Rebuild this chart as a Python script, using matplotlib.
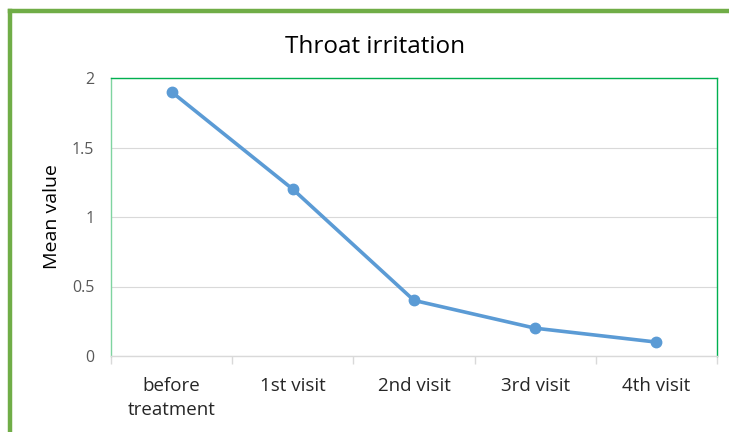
import matplotlib.pyplot as plt
from matplotlib.lines import Line2D
import numpy as np

plt.rcParams['font.family'] = ['Open Sans', 'DejaVu Sans']

categories = ['before\ntreatment', '1st visit', '2nd visit', '3rd visit', '4th visit']
mean_values = [1.9, 1.2, 0.4, 0.2, 0.1]
y_ticks = [0, 0.5, 1, 1.5, 2]
y_tick_labels = ['0', '0.5', '1', '1.5', '2']

fig = plt.figure(figsize=(7.29, 4.32), dpi=100)
ax = fig.add_axes([111 / 729, 1 - 356 / 432, 606 / 729, 278 / 432])

x = np.arange(len(categories))
ax.plot(x, mean_values, color='#5B9BD5', linewidth=2.6, marker='o', markersize=7.5)

ax.set_xlim(-0.5, len(categories) - 0.5)
ax.set_ylim(0, 2)
ax.set_yticks(y_ticks)
ax.set_yticklabels(y_tick_labels)
ax.set_xticks(x)
ax.set_xticklabels(categories, linespacing=1.45)
ax.set_xticks(np.arange(-0.5, len(categories)), minor=True)
ax.tick_params(axis='x', which='major', length=0, pad=15, labelsize=13.5, labelcolor='#262626')
ax.tick_params(axis='x', which='minor', length=6, color='#D9D9D9', width=1)
ax.tick_params(axis='y', length=0, pad=12, labelsize=11.5, labelcolor='#595959')

ax.grid(axis='y', color='#D9D9D9', linewidth=0.8)
ax.set_axisbelow(True)

ax.spines['top'].set_color('#00B050')
ax.spines['right'].set_color('#00B050')
ax.spines['left'].set_color('#7FD4A0')
ax.spines['bottom'].set_color('#D9D9D9')
for s in ax.spines.values():
    s.set_linewidth(1)

ax.set_ylabel('Mean value', fontsize=14, color='#000000', labelpad=8)
fig.text(375 / 729, 1 - 47 / 432, 'Throat irritation', ha='center', va='center', fontsize=17.5, color='#000000')

# green outer frame (left and top)
fig.add_artist(Line2D([10 / 729, 10 / 729], [0, 1 - 11 / 432], transform=fig.transFigure,
                      color='#70AD47', linewidth=3.2, solid_capstyle='projecting'))
fig.add_artist(Line2D([10 / 729, 1], [1 - 11 / 432, 1 - 11 / 432], transform=fig.transFigure,
                      color='#70AD47', linewidth=3.2, solid_capstyle='projecting'))

fig.savefig('out.png', dpi=100)
